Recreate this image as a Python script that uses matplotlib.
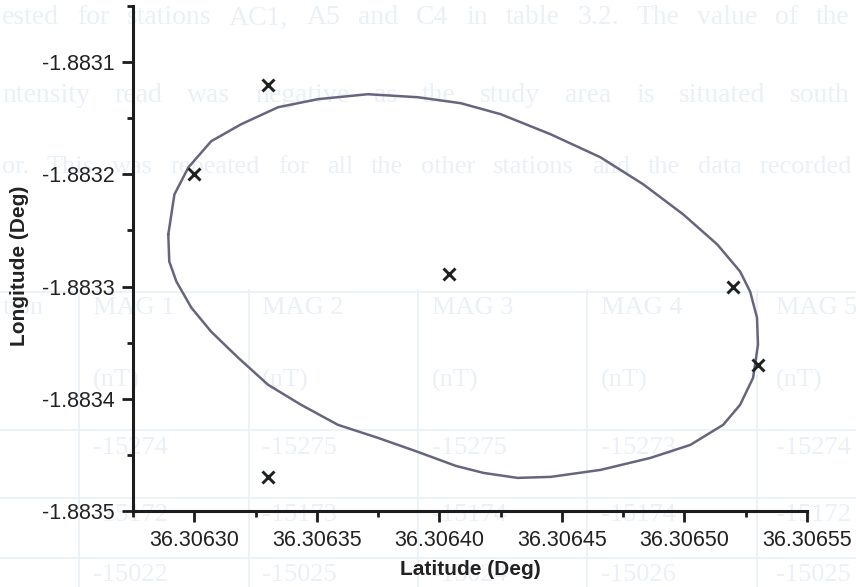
import matplotlib
matplotlib.use("Agg")
import matplotlib.pyplot as plt
from matplotlib.lines import Line2D
from matplotlib.ticker import MultipleLocator, FormatStrFormatter

# ---- chart data ----
station_lat = [36.30630, 36.30633, 36.30633, 36.306404, 36.30652, 36.30653]
station_lon = [-1.88320, -1.88312, -1.88347, -1.883289, -1.88330, -1.88337]

# traced outline of the closed curve drawn round the stations
outline_lat = [36.3062894, 36.3062919, 36.3062976, 36.3063069, 36.3063191, 36.3063342,
               36.3063505, 36.3063708, 36.3063912, 36.3064087, 36.3064250, 36.3064454,
               36.3064657, 36.3064832, 36.3064995, 36.3065134, 36.3065227, 36.3065268,
               36.3065296, 36.3065300, 36.3065280, 36.3065227, 36.3065158, 36.3065024,
               36.3064861, 36.3064657, 36.3064454, 36.3064319, 36.3064181, 36.3064067,
               36.3063912, 36.3063749, 36.3063586, 36.3063436, 36.3063301, 36.3063179,
               36.3063069, 36.3062988, 36.3062927, 36.3062898]
outline_lon = [-1.8832536, -1.8832179, -1.8831938, -1.8831705, -1.8831554, -1.8831402,
               -1.8831330, -1.8831286, -1.8831313, -1.8831366, -1.8831464, -1.8831643,
               -1.8831848, -1.8832089, -1.8832357, -1.8832625, -1.8832866, -1.8833045,
               -1.8833277, -1.8833518, -1.8833813, -1.8834054, -1.8834232, -1.8834411,
               -1.8834527, -1.8834634, -1.8834696, -1.8834705, -1.8834661, -1.8834598,
               -1.8834473, -1.8834348, -1.8834232, -1.8834054, -1.8833875, -1.8833634,
               -1.8833402, -1.8833188, -1.8832955, -1.8832777]

x_label = "Latitude (Deg)"
y_label = "Longitude (Deg)"

# ---- faint show-through text of the scanned page ----
ghost_lines = [
    "ested for stations AC1, A5 and C4 in table 3.2. The value of the",
    "ntensity read was negative as the study area is situated south",
    "or. This was repeated for all the other stations and the data recorded",
]
ghost_header = ["tion", "MAG 1", "MAG 2", "MAG 3", "MAG 4", "MAG 5"]
ghost_units = ["", "(nT)", "(nT)", "(nT)", "(nT)", "(nT)"]
ghost_row1 = ["", "-15274", "-15275", "-15275", "-15273", "-15274"]
ghost_row2 = ["", "-15172", "-15173", "-15174", "-15174", "-15172"]
ghost_row3 = ["", "-15022", "-15025", "-15024", "-15026", "-15025"]

W, H = 856, 587
plt.rcParams['font.family'] = ['Liberation Sans', 'DejaVu Sans']
fig = plt.figure(figsize=(W / 100, H / 100), dpi=100)
fig.patch.set_facecolor('white')

def fx(px):
    return px / W

def fy(py):
    return 1 - py / H

ghost_color = '#eaf0f5'
renderer = fig.canvas.get_renderer()

def justified(words_line, x0, x1, ycen, size):
    words = words_line.split()
    texts = [fig.text(0, fy(ycen), w, fontsize=size, family='Liberation Serif',
                      color=ghost_color, va='center', ha='left', zorder=-5)
             for w in words]
    widths = [t.get_window_extent(renderer).width for t in texts]
    gap = (x1 - x0 - sum(widths)) / max(len(words) - 1, 1)
    x = x0
    for t, w in zip(texts, widths):
        t.set_x(fx(x))
        x += w + gap

justified(ghost_lines[0], 2, 850, 18, 20)
justified(ghost_lines[1], 2, 850, 96, 20)
justified(ghost_lines[2], 2, 852, 167, 19)

# table grid
col_edges = [79, 249, 418, 587, 757]
for xe in col_edges:
    fig.add_artist(Line2D([fx(xe), fx(xe)], [fy(290), fy(590)], color=ghost_color,
                          lw=1.2, zorder=-5, transform=fig.transFigure))
for ye in [292, 430, 498, 558]:
    fig.add_artist(Line2D([0, 1], [fy(ye), fy(ye)], color=ghost_color, lw=1.2,
                          zorder=-5, transform=fig.transFigure))
cell_left = [3, 93, 262, 432, 601, 776]
for row, ycen in [(ghost_header, 308), (ghost_units, 380), (ghost_row1, 448),
                  (ghost_row2, 515), (ghost_row3, 575)]:
    for i, s in enumerate(row):
        if not s:
            continue
        fig.text(fx(cell_left[i]), fy(ycen), s, fontsize=19, family='Liberation Serif',
                 color=ghost_color, va='center', ha='left', zorder=-5)

# ---- axes ----
ax = fig.add_axes([fx(133), fy(511), fx(807) - fx(133), fy(6) - fy(511)])
ax.patch.set_alpha(0)

line_col = '#67657e'
ax.plot(outline_lat + outline_lat[:1], outline_lon + outline_lon[:1], color=line_col,
        lw=1.8, solid_joinstyle='round', solid_capstyle='round', zorder=2)
ax.plot(station_lat, station_lon, linestyle='none', marker='x', markersize=9,
        markeredgewidth=2.1, color='#1e221e', zorder=3)

ax.set_xlim(36.306275, 36.30655)
ax.set_ylim(-1.8835, -1.88305)

ax.xaxis.set_major_locator(MultipleLocator(0.00005))
ax.xaxis.set_minor_locator(MultipleLocator(0.000025))
ax.yaxis.set_major_locator(MultipleLocator(0.0001))
ax.yaxis.set_minor_locator(MultipleLocator(0.00005))
ax.xaxis.set_major_formatter(FormatStrFormatter('%.5f'))
ax.yaxis.set_major_formatter(FormatStrFormatter('%.4f'))

for side in ['top', 'right']:
    ax.spines[side].set_visible(False)
for side in ['left', 'bottom']:
    ax.spines[side].set_linewidth(2.2)
    ax.spines[side].set_color('#1c1c1c')

ax.tick_params(axis='both', which='major', direction='out', length=8, width=2.0,
               color='#1c1c1c', labelsize=15.5, labelcolor='#222222')
ax.tick_params(axis='both', which='minor', direction='out', length=4.5, width=2.0,
               color='#1c1c1c')
ax.tick_params(axis='y', which='major', pad=5)
ax.tick_params(axis='x', which='major', pad=5.5)

ax.set_xlabel(x_label, fontsize=15, fontweight='bold', color='#222222')
ax.set_ylabel(y_label, fontsize=15, fontweight='bold', color='#222222')
ax.xaxis.set_label_coords(0.5, -0.098)
ax.yaxis.set_label_coords(-0.155, 0.485)

fig.savefig('out.png', dpi=100)
